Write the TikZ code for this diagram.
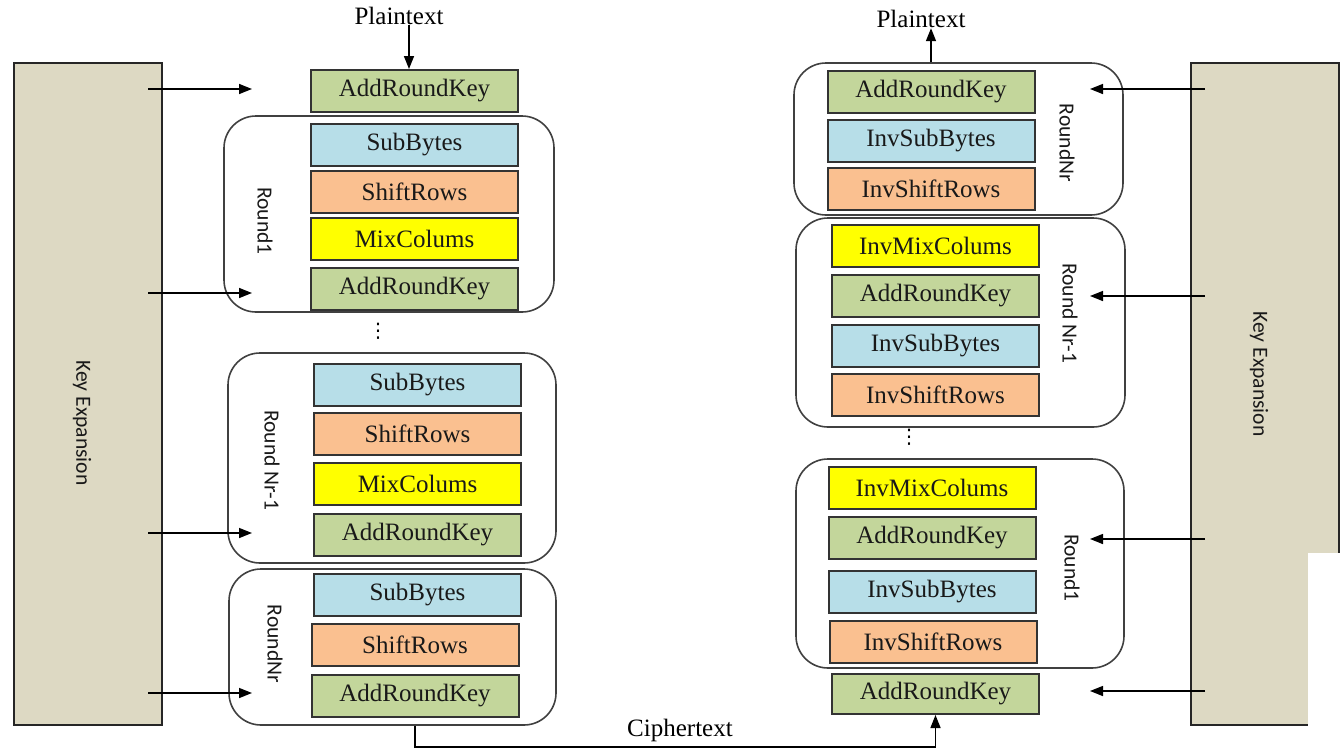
\documentclass[tikz,border=0pt]{standalone}
\usepackage{fontspec}
\setmainfont{Liberation Serif}
\newfontfamily\calfont{Carlito}
\newfontfamily\symfont{DejaVu Sans}
\usetikzlibrary{arrows.meta}
\definecolor{arkgreen}{HTML}{C3D69B}
\definecolor{subblue}{HTML}{B7DEE8}
\definecolor{shiftorange}{HTML}{FAC090}
\definecolor{mixyellow}{HTML}{FFFF00}
\definecolor{keytan}{HTML}{DDD9C3}

\begin{document}
\begin{tikzpicture}[x=0.5pt, y=-0.5pt,
  font=\fontsize{12.5}{15}\selectfont,
  blk/.style={draw=black!80, line width=1pt, minimum width=103.5pt,
              minimum height=21pt, inner sep=0pt, text=black!90},
  ark/.style={blk, fill=arkgreen},
  sub/.style={blk, fill=subblue},
  shr/.style={blk, fill=shiftorange},
  mix/.style={blk, fill=mixyellow},
  rnd/.style={draw=black!75, line width=0.8pt, rounded corners=16pt,
              fill=white, inner sep=0pt},
  keyx/.style={draw=black!85, line width=0.6pt, fill=keytan,
               minimum width=74pt, minimum height=331pt, inner sep=0pt},
  lbl/.style={font=\calfont\fontsize{10.8}{12}\selectfont, rotate=-90,
              text=black!90, inner sep=0pt},
  dts/.style={font=\symfont\fontsize{10}{10}\selectfont, inner sep=0pt},
  a/.style={-{Triangle[length=6.5pt,width=5pt]}, line width=0.75pt}]
\useasboundingbox (0,0) rectangle (1340,750);

% encryption
\node[keyx] (keyL) at (88,394) {};
\node[lbl] (keyLt) at (82,423) {Key Expansion};
\node[inner sep=0pt] (ptL) at (399,16) {Plaintext};
\node[ark] (ark0) at (414.5,91) {AddRoundKey};

\node[rnd, minimum width=165pt, minimum height=98pt] (r1) at (389,214) {};
\node[sub] (sb1) at (414.5,145) {SubBytes};
\node[shr] (sr1) at (414.5,191.5) {ShiftRows};
\node[mix] (mc1) at (414.5,238.5) {MixColums};
\node[ark] (ark1) at (414.5,289) {AddRoundKey};
\node[lbl] (r1t) at (265,221) {Round1};

\node[dts] (dotsL) at (378,331) {⋮};

\node[rnd, minimum width=164pt, minimum height=105pt] (rn1) at (392,458) {};
\node[sub] (sb2) at (417.5,385) {SubBytes};
\node[shr] (sr2) at (417.5,434) {ShiftRows};
\node[mix] (mc2) at (417.5,484) {MixColums};
\node[ark] (ark2) at (417.5,535) {AddRoundKey};
\node[lbl] (rn1t) at (272,460) {Round Nr-1};

\node[rnd, minimum width=163.5pt, minimum height=78pt] (rnr) at (392.5,647) {};
\node[sub] (sb3) at (417.5,594.5) {SubBytes};
\node[shr] (sr3) at (415,644.5) {ShiftRows};
\node[ark] (ark3) at (415,695.5) {AddRoundKey};
\node[lbl] (rnrt) at (275,644) {RoundNr};

% decryption
\node[keyx] (keyR) at (1265,394) {};
\fill[white] (1308,553) rectangle (1340,750);
\node[lbl] (keyRt) at (1259,374) {Key Expansion};
\node[inner sep=0pt] (ptR) at (921,19) {Plaintext};

\node[rnd, minimum width=164.5pt, minimum height=76pt] (rnrR) at (958.5,139) {};
\node[ark] (arkR3) at (931,91.5) {AddRoundKey};
\node[sub] (isbR3) at (931,141) {InvSubBytes};
\node[shr] (isrR3) at (931,189) {InvShiftRows};
\node[lbl] (rnrRt) at (1067,143) {RoundNr};

\node[rnd, minimum width=164.5pt, minimum height=104.5pt] (rn1R) at (960.5,322.5) {};
\node[mix] (imcR2) at (935.5,245.5) {InvMixColums};
\node[ark] (arkR2) at (935.5,295.5) {AddRoundKey};
\node[sub] (isbR2) at (935.5,346) {InvSubBytes};
\node[shr] (isrR2) at (935.5,395) {InvShiftRows};
\node[lbl] (rn1Rt) at (1070,313) {Round Nr-1};

\node[dts] (dotsR) at (909,437) {⋮};

\node[rnd, minimum width=164pt, minimum height=104.5pt] (r1R) at (960,563.5) {};
\node[mix] (imcR1) at (932,487.5) {InvMixColums};
\node[ark] (arkR1) at (932,537.5) {AddRoundKey};
\node[sub] (isbR1) at (932,591.5) {InvSubBytes};
\node[shr] (isrR1) at (933,641.5) {InvShiftRows};
\node[lbl] (r1Rt) at (1072,568) {Round1};

\node[ark, minimum height=20pt] (arkR0) at (935.5,694) {AddRoundKey};

\node[inner sep=0pt] (ct) at (680,730) {Ciphertext};

% connectors
\foreach \y/\n in {89/a,293/b,533/c,693/d}{
  \coordinate (kl\n) at (148,\y);
  \coordinate (il\n) at (252,\y);
  \draw[a] (kl\n) -- (il\n);
}
\foreach \y/\n in {89/a,296/b,539/c,691/d}{
  \coordinate (kr\n) at (1205,\y);
  \coordinate (ir\n) at (1090,\y);
  \draw[a] (kr\n) -- (ir\n);
}
\coordinate (cb) at (0,747);
\coordinate (pin) at (409,0);
\draw[a] (pin |- ptL.south) -- (pin |- ark0.north);
\draw[a] (arkR3.north |- rnrR.north) -- (arkR3.north |- ptR.south);
\draw[a] (ark3 |- rnr.south) -- (ark3 |- cb) -| (arkR0.south);
\end{tikzpicture}
\end{document}
